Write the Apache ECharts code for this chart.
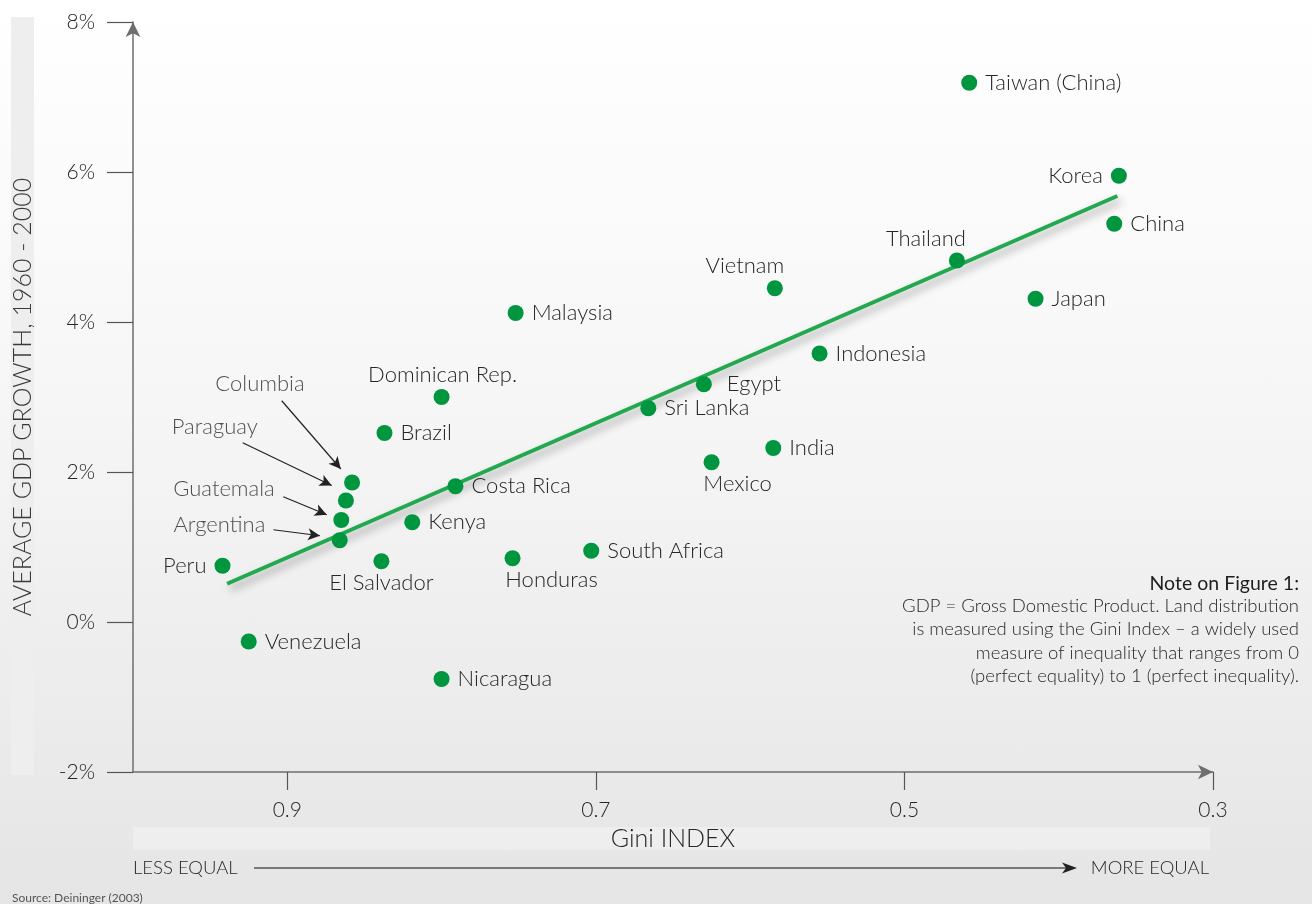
<!DOCTYPE html>
<html>
<head>
<meta charset="utf-8">
<script src="https://cdn.jsdelivr.net/npm/echarts@6/dist/echarts.min.js"></script>
<style>
html,body{margin:0;padding:0;}
#chart{width:1312px;height:904px;background:linear-gradient(to bottom,#ffffff 0%,#f6f6f6 45%,#e5e5e5 100%);}
</style>
</head>
<body>
<div id="chart"></div>
<script>
// ---------- data ----------
const countries = ['Taiwan (China)','Korea','China','Thailand','Japan','Vietnam','Indonesia','Malaysia','Egypt','Sri Lanka','India','Mexico','Dominican Rep.','Brazil','Columbia','Paraguay','Guatemala','Argentina','Costa Rica','Kenya','El Salvador','Honduras','South Africa','Peru','Venezuela','Nicaragua'];
const giniIndex = [0.458,0.361,0.364,0.466,0.415,0.584,0.555,0.752,0.630,0.666,0.585,0.625,0.800,0.837,0.858,0.862,0.865,0.866,0.791,0.819,0.839,0.754,0.703,0.942,0.925,0.800];
const gdpGrowth = [7.19,5.95,5.31,4.82,4.31,4.45,3.58,4.12,3.17,2.85,2.32,2.13,3.00,2.52,1.86,1.62,1.36,1.09,1.81,1.33,0.81,0.85,0.95,0.75,-0.26,-0.76];

const trendGini = [0.939, 0.362];
const trendGrowth = [0.51, 5.68];

const xTicks = [0.3, 0.5, 0.7, 0.9];
const yTicks = [-2, 0, 2, 4, 6, 8];

// callouts (label anchor and arrow, in data units)
const calloutNames = ['Columbia','Paraguay','Guatemala','Argentina'];
const calloutLabelGini = [0.9177, 0.947, 0.941, 0.944];
const calloutLabelGrowth = [3.17, 2.60, 1.77, 1.29];
const arrowFromGini = [0.9036, 0.9289, 0.9026, 0.909];
const arrowFromGrowth = [2.95, 2.39, 1.67, 1.23];
const arrowToGini = [0.8653, 0.8712, 0.8744, 0.8788];
const arrowToGrowth = [2.04, 1.82, 1.43, 1.15];

// ---------- style ----------
const FONT = 'Lato, "Open Sans", sans-serif';
const TEXT = '#262626';
const labelLayout = {
  'Taiwan (China)':['right'], 'Korea':['left'], 'China':['right'], 'Thailand':['top',[-31,0]],
  'Japan':['right'], 'Vietnam':['top',[-30,0]], 'Indonesia':['right'], 'Malaysia':['right'],
  'Egypt':['right',[7,0]], 'Sri Lanka':['right'], 'India':['right'], 'Mexico':['bottom',[26,0]],
  'Dominican Rep.':['top',[1,0]], 'Brazil':['right'], 'Costa Rica':['right'], 'Kenya':['right'],
  'El Salvador':['bottom'], 'Honduras':['bottom',[39,0]], 'South Africa':['right'], 'Peru':['left'],
  'Venezuela':['right'], 'Nicaragua':['right']
};

const pointData = countries.map((c, i) => {
  const lay = labelLayout[c];
  const isSide = lay && (lay[0] === 'left' || lay[0] === 'right');
  return {
    name: c,
    value: [giniIndex[i], gdpGrowth[i]],
    label: lay ? {show: true, position: lay[0], offset: lay[1] || [0,0], distance: isSide ? 8 : 3} : {show: false}
  };
});

const trendData = trendGini.map((g, i) => [g, trendGrowth[i]]);
const calloutLabelData = calloutNames.map((c, i) => ({name: c, value: [calloutLabelGini[i], calloutLabelGrowth[i]]}));
const arrowData = calloutNames.map((c, i) => [
  {coord: [arrowFromGini[i], arrowFromGrowth[i]]},
  {coord: [arrowToGini[i], arrowToGrowth[i]]}
]);

const chart = echarts.init(document.getElementById('chart'), null, {renderer: 'canvas'});

const option = {
  animation: false,
  textStyle: {fontFamily: FONT},
  grid: {left: 133, right: 99, top: 22, bottom: 132, containLabel: false},
  xAxis: {
    type: 'value', inverse: true, min: 0.3, max: 1.0, interval: 0.2,
    name: 'Gini INDEX', nameLocation: 'middle', nameGap: 54,
    nameTextStyle: {fontSize: 25, color: TEXT, fontFamily: FONT, fontWeight: 300},
    axisLine: {show: true, onZero: false, symbol: ['none','arrow'], symbolSize: [11,15], lineStyle: {color: '#6e6e6e', width: 1.5}},
    axisTick: {show: true, customValues: xTicks, length: 18, lineStyle: {color: '#555', width: 1.2}},
    axisLabel: {customValues: xTicks, formatter: v => v.toFixed(1), margin: 28, fontSize: 21, color: TEXT, fontFamily: FONT, fontWeight: 300},
    splitLine: {show: false}
  },
  yAxis: {
    type: 'value', min: -2, max: 8, interval: 2,
    name: 'AVERAGE GDP GROWTH, 1960 - 2000', nameLocation: 'middle', nameGap: 98,
    nameTextStyle: {fontSize: 25, color: '#3a3a3a', fontFamily: FONT, fontWeight: 300},
    axisLine: {show: true, onZero: false, symbol: ['none','arrow'], symbolSize: [11,15], lineStyle: {color: '#6e6e6e', width: 1.5}},
    axisTick: {show: true, customValues: yTicks, length: 26, lineStyle: {color: '#555', width: 1.2}},
    axisLabel: {customValues: yTicks, formatter: v => v + '%', margin: 38, fontSize: 21, color: TEXT, fontFamily: FONT, fontWeight: 300},
    splitLine: {show: false}
  },
  graphic: [
    {type: 'rect', z: -1, silent: true, shape: {x: 11, y: 17, width: 23, height: 758}, style: {fill: '#eeeeee'}},
    {type: 'rect', z: -1, silent: true, shape: {x: 133, y: 827, width: 1077, height: 23}, style: {fill: '#eeeeee'}},
    {type: 'text', x: 1299, y: 584, style: {text: 'Note on Figure 1:', align: 'right', verticalAlign: 'middle', fontSize: 19.5, fontWeight: 'normal', fontFamily: FONT, fill: '#1e1e1e'}},
    {type: 'text', x: 1299, y: 594, style: {
      text: 'GDP = Gross Domestic Product. Land distribution\nis measured using the Gini Index \u2013 a widely used\nmeasure of inequality that ranges from 0\n(perfect equality) to 1 (perfect inequality).',
      align: 'right', verticalAlign: 'top', lineHeight: 23.5, fontSize: 18.5, fontWeight: 300, fontFamily: FONT, fill: TEXT}},
    {type: 'text', x: 133, y: 868, style: {text: 'LESS EQUAL', align: 'left', verticalAlign: 'middle', fontSize: 18.5, fontWeight: 300, fontFamily: FONT, fill: TEXT}},
    {type: 'text', x: 1209, y: 868, style: {text: 'MORE EQUAL', align: 'right', verticalAlign: 'middle', fontSize: 18.5, fontWeight: 300, fontFamily: FONT, fill: TEXT}},
    {type: 'line', shape: {x1: 254, y1: 868, x2: 1066, y2: 868}, style: {stroke: '#555', lineWidth: 1.3}},
    {type: 'polygon', shape: {points: [[1077,868],[1062,862.5],[1066,868],[1062,873.5]]}, style: {fill: '#222'}},
    {type: 'text', x: 12, y: 898, style: {text: 'Source: Deininger (2003)', align: 'left', verticalAlign: 'middle', fontSize: 12, fontFamily: FONT, fill: '#555'}}
  ],
  series: [
    {
      type: 'line', name: 'trend', data: trendData, symbol: 'none', z: 2, silent: true,
      lineStyle: {color: '#22a84f', width: 4, shadowColor: 'rgba(0,0,0,0.35)', shadowBlur: 8, shadowOffsetX: 3, shadowOffsetY: 5}
    },
    {
      type: 'scatter', name: 'countries', data: pointData, symbol: 'circle', symbolSize: 16, z: 3,
      itemStyle: {color: '#00953f', opacity: 1},
      label: {formatter: '{b}', fontSize: 22, color: TEXT, fontFamily: FONT, fontWeight: 300}
    },
    {
      type: 'scatter', name: 'callouts', data: calloutLabelData, symbolSize: 0, z: 3, silent: true,
      label: {show: true, position: 'inside', formatter: '{b}', fontSize: 22, color: TEXT, fontFamily: FONT, fontWeight: 300},
      markLine: {
        silent: true, symbol: ['none','arrow'], symbolSize: [9, 12],
        label: {show: false},
        lineStyle: {color: '#222', width: 1.2, type: 'solid'},
        emphasis: {disabled: true},
        data: arrowData
      }
    }
  ]
};
chart.setOption(option);
</script>
</body>
</html>
